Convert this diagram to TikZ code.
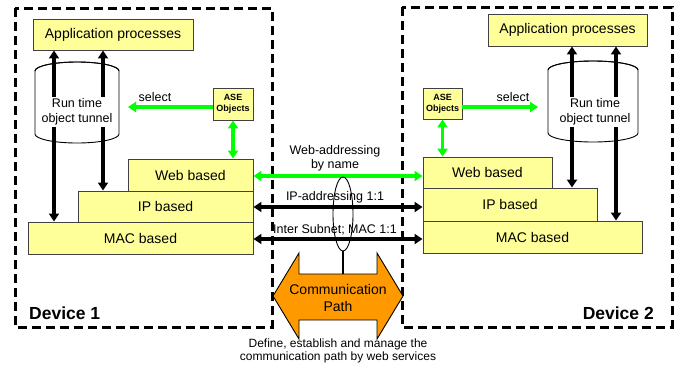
\documentclass[tikz,border=0pt]{standalone}
\usepackage{fontspec}
\setmainfont{Liberation Sans}
\usetikzlibrary{arrows.meta,shapes.geometric}
\definecolor{boxyellow}{HTML}{FFFF99}
\definecolor{linkgreen}{HTML}{00FF00}
\definecolor{pathorange}{HTML}{FF9900}
\tikzset{
  layer/.style={draw=black!75, fill=boxyellow, line width=0.9pt, inner sep=0pt,
    font=\fontsize{14}{16}\selectfont},
  aseobj/.style={layer, align=center, font=\bfseries\fontsize{9}{11}\selectfont},
  device/.style={draw=black, line width=3pt, dash pattern=on 9pt off 5pt},
  blackarrow/.style={draw=black, line width=3.3pt,
    {Triangle[length=8pt,width=10pt]}-{Triangle[length=8pt,width=10pt]}},
  greenarrow/.style={draw=linkgreen, line width=3.3pt,
    {Triangle[length=8pt,width=10pt]}-{Triangle[length=8pt,width=10pt]}},
  greenone/.style={draw=linkgreen, line width=3.3pt, -{Triangle[length=8pt,width=10pt]}},
  lbl/.style={font=\fontsize{12.5}{14.5}\selectfont, align=center, inner sep=1pt},
  tunneltext/.style={lbl, fill=white, inner sep=1.5pt},
  devlabel/.style={font=\bfseries\fontsize{17.5}{20}\selectfont, inner sep=0pt},
  cylline/.style={draw=black, line width=0.9pt, fill=white},
}
\begin{document}
\begin{tikzpicture}[x=1pt,y=-1pt]
\useasboundingbox (0,0) rectangle (682,368);

% device frames
\draw[device] (15,8) rectangle (272,327);
\draw[device] (402,7) rectangle (672,327);
\node[devlabel, anchor=west] (dev1) at (29,313) {Device 1};
\node[devlabel, anchor=east] (dev2) at (654,313) {Device 2};

% ---------- device 1 ----------
\node[layer, minimum width=160pt, minimum height=31pt] (appL) at (113,34.5) {Application processes};
\node[layer, minimum width=125pt, minimum height=32pt] (webL) at (190.5,175) {Web based};
\node[layer, minimum width=175pt, minimum height=31pt] (ipL) at (165.5,206.5) {IP based};
\node[layer, minimum width=225pt, minimum height=32pt] (macL) at (140.5,238) {MAC based};
\node[aseobj, minimum width=40pt, minimum height=32pt] (aseL) at (233,104) {ASE\\Objects};

% run time tunnel (cylinder)
\path[cylline] (35,71) -- (35,134) arc[start angle=180, end angle=360, x radius=42, y radius=-9]
  -- (119,71) arc[start angle=0, end angle=180, x radius=42, y radius=-9] -- cycle;
\draw[black, line width=0.9pt] (35,71) arc[start angle=180, end angle=360, x radius=42, y radius=9];

\coordinate (lx1) at (54,0);
\coordinate (lx2) at (103,0);
\draw[blackarrow] (lx1 |- appL.south) -- (lx1 |- macL.north);
\draw[blackarrow] (lx2 |- appL.south) -- (lx2 |- ipL.north);
\node[tunneltext] (tunL) at (77,112) {Run time\\object tunnel};

\coordinate (selL) at (128,107);
\draw[greenone] (aseL.west |- selL) -- (selL);
\node[lbl] (selLtxt) at (155,97) {select};
\draw[greenarrow] (aseL.south) -- (aseL.south |- webL.north);

% ---------- device 2 ----------
\node[layer, minimum width=159pt, minimum height=32pt] (appR) at (567.5,30) {Application processes};
\node[layer, minimum width=129pt, minimum height=31pt] (webR) at (487.5,172.5) {Web based};
\node[layer, minimum width=174pt, minimum height=33pt] (ipR) at (510,204.5) {IP based};
\node[layer, minimum width=219pt, minimum height=32pt] (macR) at (532.5,237) {MAC based};
\node[aseobj, minimum width=39pt, minimum height=31pt] (aseR) at (442.5,103.5) {ASE\\Objects};

\path[cylline] (548,70) -- (548,133) arc[start angle=180, end angle=360, x radius=45, y radius=-9]
  -- (638,70) arc[start angle=0, end angle=180, x radius=45, y radius=-9] -- cycle;
\draw[black, line width=0.9pt] (548,70) arc[start angle=180, end angle=360, x radius=45, y radius=9];

\coordinate (rx1) at (572,0);
\coordinate (rx2) at (616,0);
\draw[blackarrow] (rx1 |- appR.south) -- (rx1 |- ipR.north);
\draw[blackarrow] (rx2 |- appR.south) -- (rx2 |- macR.north);
\node[tunneltext] (tunR) at (595,112) {Run time\\object tunnel};

\coordinate (selR) at (538,107);
\draw[greenone] (aseR.east |- selR) -- (selR);
\node[lbl] (selRtxt) at (513,97) {select};
\draw[greenarrow] (aseR.south) -- (aseR.south |- webR.north);

% ---------- links between the devices ----------
\coordinate (yweb) at (0,176);
\coordinate (yip) at (0,207);
\coordinate (ymac) at (0,239);
\draw[greenarrow] (webL.east |- yweb) -- (webR.west |- yweb);
\draw[blackarrow] (ipL.east |- yip) -- (ipR.west |- yip);
\draw[blackarrow] (macL.east |- ymac) -- (macR.west |- ymac);
\node[lbl] (webtxt) at (335,158.5) {Web-addressing\\by name};
\node[lbl] (iptxt) at (335,197) {IP-addressing 1:1};
\node[lbl] (mactxt) at (335,230) {Inter Subnet; MAC 1:1};

\node[draw=black, line width=0.9pt, ellipse, minimum width=20pt, minimum height=74pt, inner sep=0pt] (bundle) at (343,214) {};

% communication path (double arrow)
\draw[fill=pathorange, draw=black, line width=0.9pt]
  (273,296) -- (299,253) -- (299,274) -- (377,274) -- (377,253) -- (403,296)
  -- (377,339) -- (377,320) -- (299,320) -- (299,339) -- cycle;
\coordinate (pathtop) at (343,274);
\draw[black, line width=1.2pt] (bundle.south) -- (pathtop);
\node[align=center, font=\fontsize{14}{17}\selectfont, inner sep=0pt] (comm) at (338,297.5) {Communication\\Path};

\node[align=center, font=\fontsize{12}{13.5}\selectfont, inner sep=0pt] (note) at (338,351)
  {Define, establish and manage the\\communication path by web services};
\end{tikzpicture}
\end{document}
